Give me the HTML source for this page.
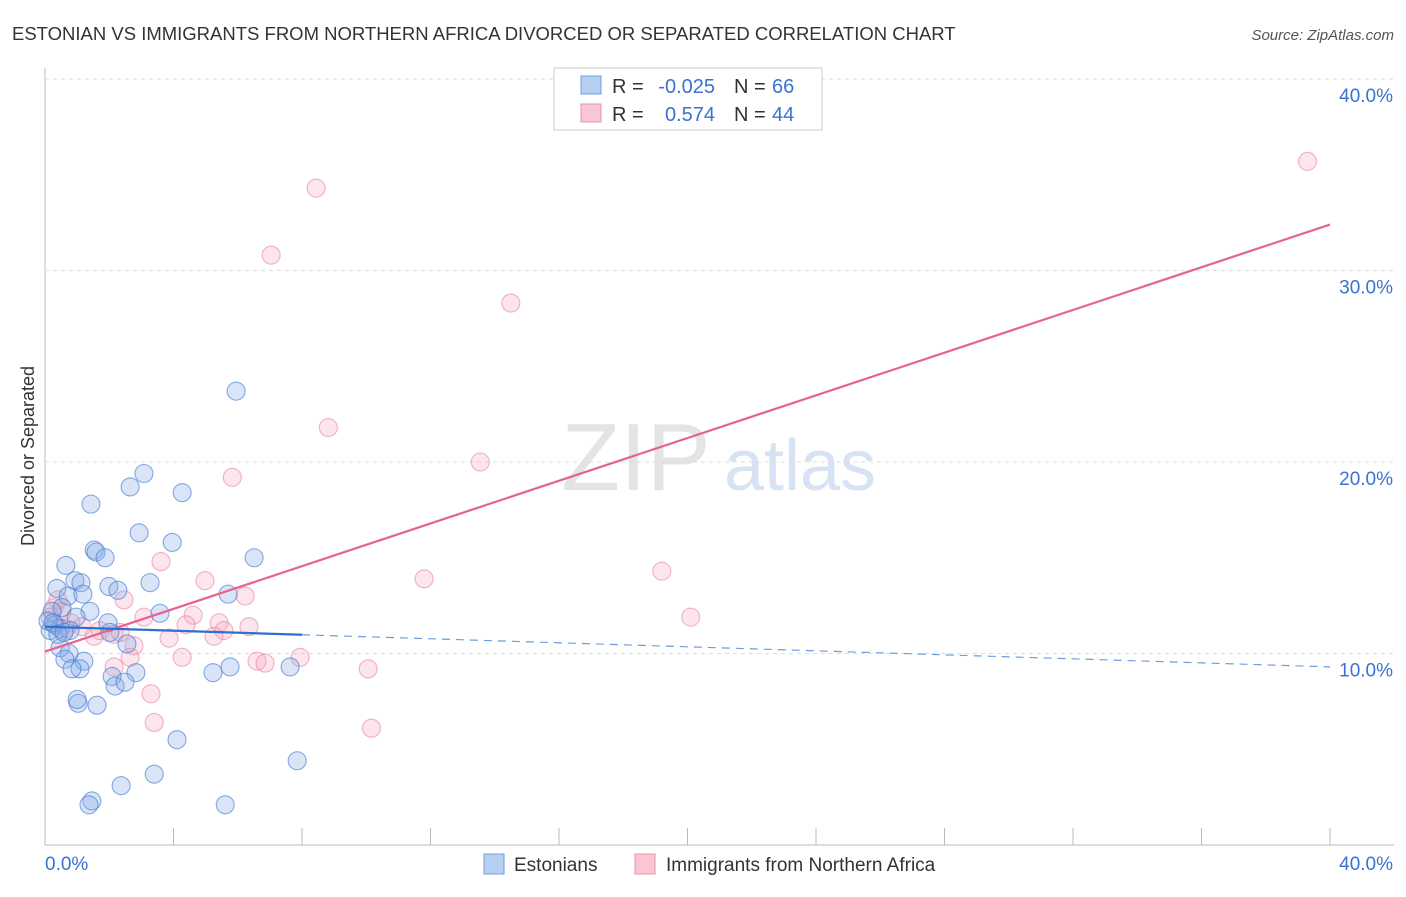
<!DOCTYPE html>
<html><head><meta charset="utf-8"><style>
body{margin:0;background:#fff;font-family:"Liberation Sans",sans-serif}
svg text{font-family:"Liberation Sans",sans-serif}
</style></head><body>
<svg id="c" width="1406" height="892">
<text x="12" y="40" font-size="18.5" fill="#333">ESTONIAN VS IMMIGRANTS FROM NORTHERN AFRICA DIVORCED OR SEPARATED CORRELATION CHART</text>
<text x="1394" y="40" font-size="15" fill="#555" text-anchor="end" font-style="italic">Source: ZipAtlas.com</text>
<text x="0" y="0" transform="translate(34,456) rotate(-90)" font-size="18" fill="#333" text-anchor="middle">Divorced or Separated</text>
<text x="636" y="490" font-size="96" fill="#e4e4e4" font-family="Liberation Serif" text-anchor="middle">ZIP</text>
<text x="800" y="490" font-size="72" fill="#d7e3f3" text-anchor="middle">atlas</text>
<g id="grid"></g><g id="marks"></g><g id="lines"></g>
<g>
<rect x="554" y="68" width="268" height="62" fill="#fff" stroke="#ccc"/>
<rect x="581" y="76" width="20" height="18" fill="#b6d0f2" stroke="#6c9de0"/>
<rect x="581" y="104" width="20" height="18" fill="#f9c6d4" stroke="#ea93ad"/>
<text x="612" y="93" font-size="20" fill="#333">R =</text>
<text x="715" y="93" font-size="20" fill="#3a72d4" text-anchor="end">-0.025</text>
<text x="734" y="93" font-size="20" fill="#333">N =</text>
<text x="772" y="93" font-size="20" fill="#3a72d4">66</text>
<text x="612" y="121" font-size="20" fill="#333">R =</text>
<text x="715" y="121" font-size="20" fill="#3a72d4" text-anchor="end">0.574</text>
<text x="734" y="121" font-size="20" fill="#333">N =</text>
<text x="772" y="121" font-size="20" fill="#3a72d4">44</text>
</g>
<g>
<rect x="484" y="854" width="20" height="20" fill="#b6d0f2" stroke="#6c9de0"/>
<text x="514" y="871" font-size="19" fill="#333">Estonians</text>
<rect x="635" y="854" width="20" height="20" fill="#f9c6d4" stroke="#ea93ad"/>
<text x="666" y="871" font-size="19" fill="#333">Immigrants from Northern Africa</text>
</g>
</svg>
<script>
const xTicks=[4,8,12,16,20,24,28,32,36,40];
const yTicks=[10,20,30,40];
const yTickLabels=["10.0%","20.0%","30.0%","40.0%"];
const blueX=[5.95,3.08,2.65,4.27,1.43,2.93,3.96,1.53,1.59,1.87,6.51,0.65,0.93,1.12,1.99,3.27,2.27,0.37,0.72,1.18,5.70,0.53,1.40,3.58,0.22,0.97,1.96,0.31,0.47,0.78,0.16,2.02,2.55,0.47,0.75,0.62,1.21,1.09,0.84,2.83,5.23,5.76,7.63,2.09,2.18,2.49,1.03,1.0,1.62,4.11,7.85,3.40,2.37,1.46,1.37,5.61,0.09,0.25,0.4,0.59];
const blueY=[23.7,19.4,18.7,18.4,17.8,16.3,15.8,15.4,15.3,15.0,15.0,14.6,13.8,13.7,13.5,13.7,13.3,13.4,13.0,13.1,13.1,12.4,12.2,12.1,12.2,11.9,11.6,11.5,11.3,11.2,11.2,11.1,10.5,10.3,10.0,9.7,9.6,9.2,9.2,9.0,9.0,9.3,9.3,8.8,8.3,8.5,7.4,7.6,7.3,5.5,4.4,3.7,3.1,2.3,2.1,2.1,11.7,11.6,11.0,11.1];
const pinkX=[39.3,8.44,7.04,14.5,8.82,13.55,5.83,3.61,19.2,11.8,4.98,6.23,2.46,20.1,4.61,3.08,4.39,5.42,6.35,5.57,5.26,3.86,0.28,0.53,0.81,1.15,1.53,1.71,2.15,2.77,2.65,4.27,7.94,6.6,6.85,2.15,10.06,3.30,3.40,10.16,0.16,0.4,0.65,2.34];
const pinkY=[35.7,34.3,30.8,28.3,21.8,20.0,19.2,14.8,14.3,13.9,13.8,13.0,12.8,11.9,12.0,11.9,11.5,11.6,11.4,11.2,10.9,10.8,12.4,12.2,11.6,11.4,10.9,11.2,11.0,10.4,9.8,9.8,9.8,9.6,9.5,9.3,9.2,7.9,6.4,6.1,11.9,12.8,11.3,11.1];
const blueTrend=[11.4,9.3];
const pinkTrend=[10.1,32.4];
const NS="http://www.w3.org/2000/svg";
const X=v=>45+v*32.125, Y=v=>845-v*19.15;
function mk(t,a,p){const e=document.createElementNS(NS,t);for(const k in a)e.setAttribute(k,a[k]);p.appendChild(e);return e;}
const grid=document.getElementById('grid'),marks=document.getElementById('marks'),lines=document.getElementById('lines');
const ax=mk('line',{x1:45,y1:845,x2:1394,y2:845,stroke:'#bbb'},grid);


const ay=mk('line',{x1:45,y1:68,x2:45,y2:845,stroke:'#bbb'},grid);


xTicks.forEach(t=>{const l=mk('line',{x1:X(t),y1:845,x2:X(t),y2:828,stroke:'#bbb'},grid);

});
yTicks.forEach((t,i)=>{const l=mk('line',{x1:45,y1:Y(t),x2:1394,y2:Y(t),stroke:'#ddd','stroke-dasharray':'4,4'},grid);


const tx=mk('text',{x:1393,y:Y(t)+23,'font-size':19,fill:'#3a72d4','text-anchor':'end'},grid);tx.textContent=yTickLabels[i];

});
const x0=mk('text',{x:45,y:870,'font-size':19,fill:'#3a72d4'},grid);x0.textContent='0.0%';


const x1=mk('text',{x:1393,y:870,'font-size':19,fill:'#3a72d4','text-anchor':'end'},grid);x1.textContent='40.0%';


pinkX.forEach((v,i)=>{const c=mk('circle',{cx:X(v),cy:Y(pinkY[i]),r:9,fill:'rgba(245,170,192,0.3)',stroke:'rgba(232,130,160,0.6)','stroke-width':1.1},marks);

});
blueX.forEach((v,i)=>{const c=mk('circle',{cx:X(v),cy:Y(blueY[i]),r:9,fill:'rgba(130,170,230,0.3)',stroke:'rgba(70,125,210,0.65)','stroke-width':1.1},marks);

});
const pt=mk('line',{x1:X(0),y1:Y(pinkTrend[0]),x2:X(40),y2:Y(pinkTrend[1]),stroke:'#e8628e','stroke-width':2.2},lines);


const bAt=x=>blueTrend[0]+(blueTrend[1]-blueTrend[0])*x/40;
const bs=mk('line',{x1:X(0),y1:Y(bAt(0)),x2:X(8),y2:Y(bAt(8)),stroke:'#2d6fd2','stroke-width':2.2},lines);


const bd=mk('line',{x1:X(8),y1:Y(bAt(8)),x2:X(40),y2:Y(bAt(40)),stroke:'#6c9de0','stroke-width':1.2,'stroke-dasharray':'8,6'},lines);


</script>
</body></html>
